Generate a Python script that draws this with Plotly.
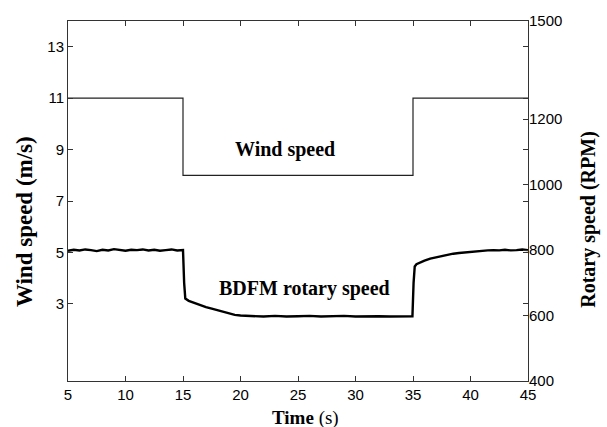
import plotly.graph_objects as go

# Wind speed (m/s) step profile
wind_t = [5, 15, 15, 35, 35, 45]
wind_v = [11, 11, 8, 8, 11, 11]

# BDFM rotary speed (RPM)
rot_t = [5.0, 5.5, 6.0, 6.5, 7.0, 7.5, 8.0, 8.5, 9.0, 9.5, 10.0, 10.5, 11.0, 11.5,
         12.0, 12.5, 13.0, 13.5, 14.0, 14.5, 14.9, 15.0, 15.1, 15.2, 15.5, 16.0,
         16.5, 17.0, 17.5, 18.0, 18.5, 19.0, 19.5, 20.0, 20.5, 21.0, 22.0, 23.0,
         24.0, 25.0, 26.0, 27.0, 28.0, 29.0, 30.0, 31.0, 32.0, 33.0, 34.0, 34.95,
         35.05, 35.15, 35.3, 35.6, 36.0, 36.5, 37.0, 37.5, 38.0, 38.5, 39.0, 39.5,
         40.0, 40.5, 41.0, 41.5, 42.0, 42.5, 43.0, 43.5, 44.0, 44.5, 45.0]
rot_v = [798, 801, 799, 802, 800, 797, 801, 799, 803, 800, 798, 801, 800, 802,
         799, 801, 798, 800, 802, 799, 801, 800, 700, 652, 645, 638,
         632, 626, 621, 616, 611, 606, 602, 600, 599, 598, 597, 599,
         597, 598, 599, 597, 598, 599, 597, 598, 598, 597, 598, 598,
         700, 750, 757, 762, 768, 774, 778, 782, 786, 789, 791, 793,
         795, 796, 797, 799, 800, 799, 801, 799, 800, 802, 800]

x_ticks = [5, 10, 15, 20, 25, 30, 35, 40, 45]
y1_ticks = [3, 5, 7, 9, 11, 13]
y2_ticks = [400, 600, 800, 1000, 1200, 1500]

serif = "Liberation Serif, Times New Roman, serif"
sans = "Liberation Sans, Arial, sans-serif"

fig = go.Figure()
fig.add_trace(go.Scatter(x=wind_t, y=wind_v, mode="lines",
                         line=dict(color="#222", width=1.2), yaxis="y",
                         showlegend=False))
fig.add_trace(go.Scatter(x=rot_t, y=rot_v, mode="lines",
                         line=dict(color="black", width=2.4), yaxis="y2",
                         showlegend=False))

fig.add_annotation(x=23.9, y=9.0, xref="x", yref="y", text="<b>Wind speed</b>",
                   showarrow=False, font=dict(family=serif, size=20, color="black"))
fig.add_annotation(x=25.6, y=3.6, xref="x", yref="y", text="<b>BDFM rotary speed</b>",
                   showarrow=False, font=dict(family=serif, size=20, color="black"))

# axis titles placed as annotations to match reference positions
fig.add_annotation(x=-0.093, y=0.442, xref="paper", yref="paper",
                   text="<b>Wind speed (m/s)</b>", textangle=-90, showarrow=False,
                   xanchor="center", yanchor="middle",
                   font=dict(family=serif, size=23, color="black"))
fig.add_annotation(x=1.13, y=0.45, xref="paper", yref="paper",
                   text="<b>Rotary speed (RPM)</b>", textangle=-90, showarrow=False,
                   xanchor="center", yanchor="middle",
                   font=dict(family=serif, size=20, color="black"))
fig.add_annotation(x=0.517, y=-0.104, xref="paper", yref="paper",
                   text="<b>Time</b> (s)", showarrow=False,
                   xanchor="center", yanchor="middle",
                   font=dict(family=serif, size=19, color="black"))

fig.update_layout(
    width=607, height=427,
    margin=dict(l=68, r=79, t=17, b=46),
    paper_bgcolor="white", plot_bgcolor="white",
    xaxis=dict(range=[5, 45], tickvals=x_ticks, ticks="inside", ticklen=5,
               tickcolor="#333", showline=True, linecolor="#333", linewidth=1,
               mirror="ticks", showgrid=False, zeroline=False,
               tickfont=dict(family=sans, size=15, color="black")),
    yaxis=dict(range=[0, 14], tickvals=y1_ticks, ticks="inside", ticklen=5,
               tickcolor="#333", showline=True, linecolor="#333", linewidth=1,
               mirror="ticks", showgrid=False, zeroline=False,
               tickfont=dict(family=sans, size=15, color="black")),
    yaxis2=dict(range=[400, 1500], tickvals=y2_ticks, ticks="inside", ticklen=5,
                tickcolor="#333", overlaying="y", side="right",
                showline=False, showgrid=False, zeroline=False,
                tickfont=dict(family=sans, size=15, color="black")),
)

fig.write_html("out.html")
